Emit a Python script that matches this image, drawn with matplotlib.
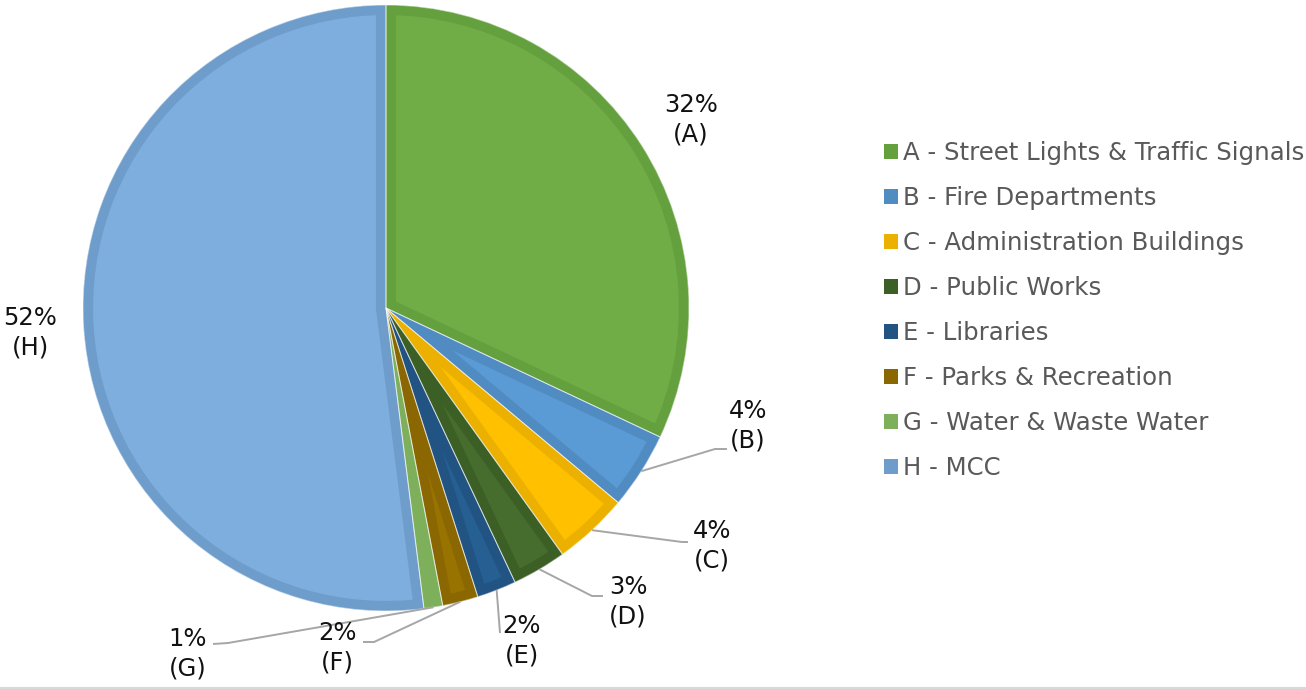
import matplotlib
matplotlib.use('Agg')
import numpy as np
import matplotlib.pyplot as plt
from matplotlib.patches import Wedge, Patch
from matplotlib.lines import Line2D

plt.rcParams['font.family'] = ['DejaVu Sans']

letters = ['A', 'B', 'C', 'D', 'E', 'F', 'G', 'H']
names = ['Street Lights & Traffic Signals', 'Fire Departments', 'Administration Buildings',
         'Public Works', 'Libraries', 'Parks & Recreation', 'Water & Waste Water', 'MCC']
shares = [32.0, 4.1, 4.0, 2.9, 2.1, 1.9, 1.0, 52.0]

fills = ['#70AD47', '#5B9BD5', '#FFC000', '#466C2E', '#265F92', '#997300', '#88BA62', '#7DAEDE']
borders = ['#64A03E', '#508BC2', '#EBB000', '#3C5F26', '#215383', '#8A6700', '#7EB05B', '#6E9DCB']

W, H = 1306, 689
CX, CY, R = 386, 308, 303

def to_data(px, py):
    return (px - CX) / R, (CY - py) / R

# label centres and leader elbows in pixels
label_px = [(691, 120), (748, 426), (712, 546), (628, 602), (522, 641), (337, 648), (188, 654), (30, 333)]
leader_px = [None, [(715, 449), (727, 449)], [(682, 542), (688, 542)], [(592, 596), (603, 596)],
             [(500, 633)], [(374, 642), (363, 642)], [(228, 643), (213, 644)], None]

fig = plt.figure(figsize=(W / 100, H / 100), dpi=100)
ax = fig.add_axes([(CX - R) / W, (H - CY - R) / H, 2 * R / W, 2 * R / H])

wedges, _ = ax.pie(shares, colors=fills, startangle=90, counterclock=False, radius=1,
                   wedgeprops=dict(linewidth=0))

for w, ec in zip(wedges, borders):
    b = Wedge(w.center, w.r, w.theta1, w.theta2, facecolor='none', edgecolor=ec, linewidth=14.5)
    ax.add_patch(b)
    b.set_clip_path(w)
for w in wedges:
    ax.add_patch(Wedge(w.center, w.r, w.theta1, w.theta2, facecolor='none',
                       edgecolor=(1, 1, 1, 0.55), linewidth=0.7))

for w, letter, pct, lp, ld in zip(wedges, letters, shares, label_px, leader_px):
    tx, ty = to_data(*lp)
    ax.text(tx, ty, f'{round(pct)}%\n({letter})', ha='center', va='center',
            fontsize=17.5, color='#111111', linespacing=1.3)
    if ld:
        mid = np.deg2rad((w.theta1 + w.theta2) / 2)
        xs = [np.cos(mid)] + [to_data(*p)[0] for p in ld]
        ys = [np.sin(mid)] + [to_data(*p)[1] for p in ld]
        ax.plot(xs, ys, color='#A6A6A6', lw=1.4, solid_capstyle='butt', clip_on=False)

ax.set_xlim(-1, 1)
ax.set_ylim(-1, 1)
ax.set_aspect('equal')
ax.axis('off')

handles = [Patch(facecolor=c, edgecolor='none') for c in borders]
labels = [f'{l} - {n}' for l, n in zip(letters, names)]
fig.legend(handles, labels, loc='upper left', bbox_to_anchor=(884 / W, 1 - 141 / H),
           frameon=False, fontsize=17.6, labelcolor='#595959', handlelength=0.57,
           handleheight=0.57, handletextpad=0.22, labelspacing=0.86, borderpad=0, borderaxespad=0)

fig.add_artist(Line2D([0, 1], [1.5 / H, 1.5 / H], color='#D9D9D9', lw=1.5))

fig.savefig('out.png', dpi=100)
